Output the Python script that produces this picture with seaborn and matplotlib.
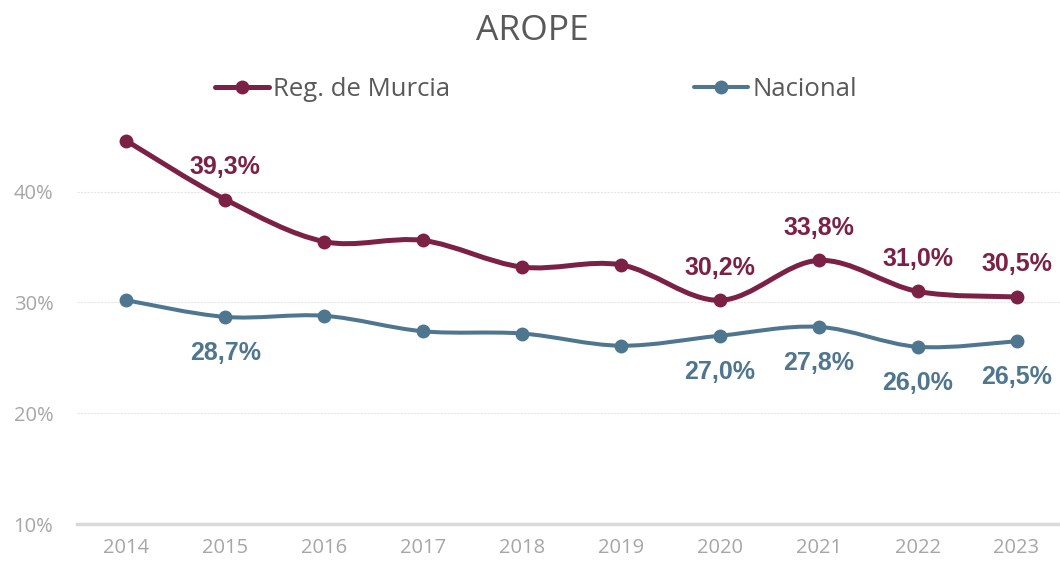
import numpy as np
import pandas as pd
import seaborn as sns
import matplotlib
matplotlib.use("Agg")
import matplotlib.pyplot as plt
from matplotlib.path import Path
from matplotlib.patches import PathPatch
from matplotlib.lines import Line2D

years = [2014, 2015, 2016, 2017, 2018, 2019, 2020, 2021, 2022, 2023]
murcia = [44.6, 39.3, 35.5, 35.6, 33.2, 33.4, 30.2, 33.8, 31.0, 30.5]
nacional = [30.2, 28.7, 28.8, 27.4, 27.2, 26.1, 27.0, 27.8, 26.0, 26.5]
series_names = ["Reg. de Murcia", "Nacional"]
labeled_years = [2015, 2020, 2021, 2022, 2023]
y_ticks = [10, 20, 30, 40]
title = "AROPE"

c_murcia = "#7C2146"
c_nac = "#4F768F"

sns.set_theme(style="white")
plt.rcParams["font.family"] = ["Open Sans", "DejaVu Sans"]

fig = plt.figure(figsize=(10.6, 5.62), dpi=100)
ax = fig.add_axes([77 / 1060, 1 - 524 / 562, (1066 - 77) / 1060, (524 - 81) / 562])

df = pd.DataFrame({
    "year": years * 2,
    "value": murcia + nacional,
    "serie": [series_names[0]] * len(years) + [series_names[1]] * len(years),
})


def smooth_path(xs, ys):
    # Excel-style smoothed line as cubic Bezier segments in data coords
    pts = np.column_stack([xs, ys]).astype(float)
    n = len(pts)
    verts = [pts[0]]
    codes = [Path.MOVETO]
    for i in range(n - 1):
        p0 = pts[i - 1] if i > 0 else pts[i]
        p1 = pts[i]
        p2 = pts[i + 1]
        p3 = pts[i + 2] if i + 2 < n else pts[i + 1]
        c1 = p1 + (p2 - p0) / 6.0
        c2 = p2 - (p3 - p1) / 6.0
        verts += [c1, c2, p2]
        codes += [Path.CURVE4] * 3
    return Path(verts, codes)


for vals, col, lw, z in [(nacional, c_nac, 2.9, 3), (murcia, c_murcia, 3.6, 4)]:
    ax.add_patch(PathPatch(smooth_path(years, vals), facecolor="none",
                           edgecolor=col, lw=lw, capstyle="round",
                           joinstyle="round", zorder=z))

sns.lineplot(data=df, x="year", y="value", hue="serie",
             palette=[c_murcia, c_nac], marker="o", markersize=10,
             markeredgewidth=0, linewidth=0, ax=ax, legend=False, zorder=5)

lab_font = dict(family=["Liberation Sans", "DejaVu Sans"], fontweight="bold", fontsize=18)
for yr, v in zip(years, murcia):
    if yr in labeled_years:
        ax.annotate(f"{v:.1f}%".replace(".", ","), (yr, v), xytext=(0, 23.5),
                    textcoords="offset points", ha="center", va="center",
                    color=c_murcia, zorder=6, **lab_font)
for yr, v in zip(years, nacional):
    if yr in labeled_years:
        ax.annotate(f"{v:.1f}%".replace(".", ","), (yr, v), xytext=(0, -26),
                    textcoords="offset points", ha="center", va="center",
                    color=c_nac, zorder=6, **lab_font)

ax.set_xlim(2013.5, 2023.5)
ax.set_ylim(10, 50)
ax.set_xticks(years)
ax.set_xticklabels([str(y) for y in years])
ax.set_yticks(y_ticks)
ax.set_yticklabels([f"{t}%" for t in y_ticks])
ax.tick_params(axis="both", length=0, labelsize=14.5, colors="#A6A6A6")
ax.tick_params(axis="x", pad=10)
ax.tick_params(axis="y", pad=17)
ax.set_xlabel("")
ax.set_ylabel("")
for s in ["top", "right", "left"]:
    ax.spines[s].set_visible(False)
ax.spines["bottom"].set_color("#D9D9D9")
ax.spines["bottom"].set_linewidth(2.5)
for t in y_ticks[1:]:
    ax.axhline(t, color="#E6E6E6", lw=0.8, ls=(0, (2, 1)), zorder=1)

fig.text(532 / 1060, 1 - 31 / 562, title, ha="center", va="center",
         fontsize=25.5, color="#595959")

handles = [
    Line2D([], [], color=c_murcia, lw=3.6, marker="o", markersize=10, markeredgewidth=0),
    Line2D([], [], color=c_nac, lw=2.9, marker="o", markersize=10, markeredgewidth=0),
]
leg = fig.legend(handles, series_names, loc="center", bbox_to_anchor=(536 / 1060, 1 - 89 / 562),
                 ncol=2, frameon=False, fontsize=18.5, handlelength=2.1,
                 handletextpad=0.15, columnspacing=9.5, labelcolor="#595959",
                 borderpad=0, borderaxespad=0)

fig.savefig("out.png", dpi=100)
